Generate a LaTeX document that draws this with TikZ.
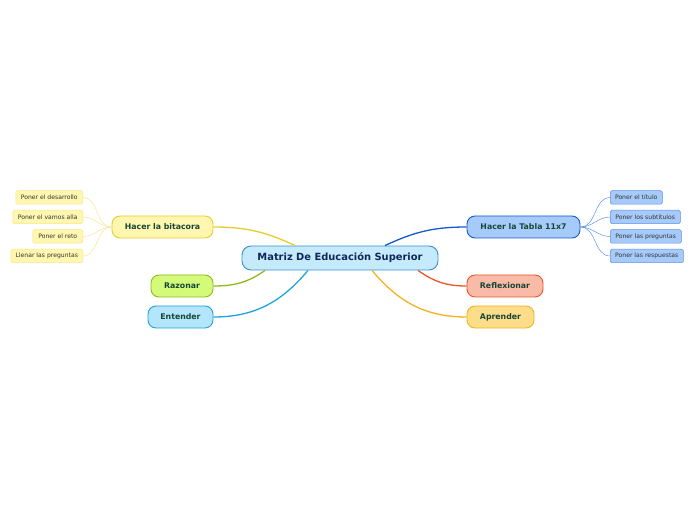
\documentclass[tikz,border=0pt]{standalone}
\usepackage{fontspec}
\setmainfont{DejaVu Sans}
\usepackage{tikz}
\usetikzlibrary{positioning,calc}
\definecolor{CoreFill}{RGB}{197,234,251}
\definecolor{CoreLine}{RGB}{58,143,207}
\definecolor{CoreText}{RGB}{14,40,90}
\definecolor{BranchText}{RGB}{22,70,55}
\definecolor{YellowFill}{RGB}{255,247,176}
\definecolor{YellowLine}{RGB}{230,204,42}
\definecolor{LeafYellowLine}{RGB}{245,230,140}
\definecolor{GreenFill}{RGB}{212,250,122}
\definecolor{GreenLine}{RGB}{143,186,26}
\definecolor{CyanFill}{RGB}{179,229,251}
\definecolor{CyanLine}{RGB}{30,163,223}
\definecolor{BlueFill}{RGB}{166,203,250}
\definecolor{BlueLine}{RGB}{20,90,205}
\definecolor{LeafBlueLine}{RGB}{95,145,232}
\definecolor{RedFill}{RGB}{249,187,168}
\definecolor{RedLine}{RGB}{232,85,43}
\definecolor{OrangeFill}{RGB}{253,220,138}
\definecolor{OrangeLine}{RGB}{242,179,32}

\begin{document}
\begin{tikzpicture}[
    x=1pt, y=1pt,
    core/.style={draw=CoreLine, fill=CoreFill, rounded corners=9pt, line width=0.9pt,
        minimum width=196pt, minimum height=24pt, inner sep=0pt,
        font=\fontsize{9.9}{11}\selectfont\bfseries, text=CoreText},
    branch/.style={rounded corners=8pt, line width=0.9pt, minimum height=22pt, inner sep=0pt,
        font=\fontsize{7.8}{9}\selectfont\bfseries, text=BranchText},
    leaf/.style={rounded corners=1.5pt, line width=0.5pt, minimum height=13.5pt, inner sep=0pt,
        font=\fontsize{6.1}{7}\selectfont, text=black!80},
    yleaf/.style={leaf, draw=LeafYellowLine, fill=YellowFill, anchor=east},
    bleaf/.style={leaf, draw=LeafBlueLine, fill=BlueFill, anchor=west},
    link/.style={line width=1.3pt},
    twig/.style={line width=0.5pt}
]
\useasboundingbox (0,0) rectangle (696,520);

% central topic
\node[core] (core) at (340,262) {Matriz De Educación Superior};

% main branches
\node[branch, draw=YellowLine, fill=YellowFill, minimum width=101pt] (bitacora) at (162.5,293) {Hacer la bitacora};
\node[branch, draw=GreenLine, fill=GreenFill, minimum width=62pt] (razonar) at (182,234) {Razonar};
\node[branch, draw=CyanLine, fill=CyanFill, minimum width=65pt] (entender) at (180.5,203) {Entender};
\node[branch, draw=BlueLine, fill=BlueFill, minimum width=113pt] (tabla) at (523.5,293) {Hacer la Tabla 11x7};
\node[branch, draw=RedLine, fill=RedFill, minimum width=76pt] (reflex) at (505,234) {Reflexionar};
\node[branch, draw=OrangeLine, fill=OrangeFill, minimum width=67pt] (aprender) at (500.5,203) {Aprender};

% leaves of the log
\node[yleaf, minimum width=67pt] (desarrollo) at (83,322.5) {Poner el desarrollo};
\node[yleaf, minimum width=70pt] (vamos) at (83,303) {Poner el vamos alla};
\node[yleaf, minimum width=50pt] (reto) at (83,283.5) {Poner el reto};
\node[yleaf, minimum width=72pt] (llenar) at (83,264) {Llenar las preguntas};

% leaves of the table
\node[bleaf, minimum width=52pt] (titulo) at (610,322.5) {Poner el título};
\node[bleaf, minimum width=70pt] (subtitulos) at (610,303) {Poner los subtítulos};
\node[bleaf, minimum width=71pt] (preguntas) at (610,283.5) {Poner las preguntas};
\node[bleaf, minimum width=73pt] (respuestas) at (610,264) {Poner las respuestas};

% connectors from the centre
\draw[link, YellowLine] ($(core.north)+(-45,0)$) to[out=155, in=0] (bitacora.east);
\draw[link, BlueLine] ($(core.north)+(45,0)$) to[out=25, in=180] (tabla.west);
\draw[link, GreenLine] ($(core.south)+(-75,0)$) to[out=215, in=0] (razonar.east);
\draw[link, CyanLine] ($(core.south)+(-32,0)$) to[out=230, in=0] (entender.east);
\draw[link, RedLine] ($(core.south)+(78,0)$) to[out=-35, in=180] (reflex.west);
\draw[link, OrangeLine] ($(core.south)+(32,0)$) to[out=-50, in=180] (aprender.west);

% twigs
\foreach \lf in {desarrollo,vamos,reto,llenar}
    \draw[twig, LeafYellowLine] (bitacora.west) to[out=180, in=0] (\lf.east);
\foreach \lf in {titulo,subtitulos,preguntas,respuestas}
    \draw[twig, LeafBlueLine] (tabla.east) to[out=0, in=180] (\lf.west);
\end{tikzpicture}
\end{document}
